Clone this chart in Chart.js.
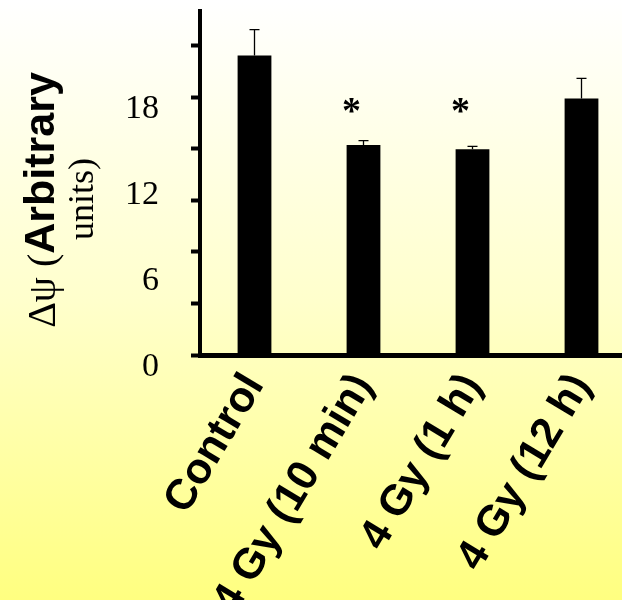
<!DOCTYPE html>
<html>
<head>
<meta charset="utf-8">
<script src="https://cdn.jsdelivr.net/npm/chart.js@4.4.1/dist/chart.umd.min.js"></script>
<style>
  html, body { margin: 0; padding: 0; width: 622px; height: 600px; overflow: hidden; }
  body { background: linear-gradient(to bottom, #ffffff 0%, #ffffcc 50%, #ffff80 100%); }
  #wrap { position: relative; width: 636px; height: 600px; }
</style>
</head>
<body>
<div id="wrap"><canvas id="c"></canvas></div>
<script>
const categories = ['Control', '4 Gy (10 min)', '4 Gy (1 h)', '4 Gy (12 h)'];
const meanValues = [20.9, 14.65, 14.35, 17.9];
const errorValues = [1.8, 0.3, 0.2, 1.4];
const significance = ['', '*', '*', ''];
const yTickLabels = [0, 6, 12, 18];
const yTickMarks = [0, 3.6, 7.2, 10.8, 14.4, 18, 21.6];
const yMax = 24;
const titleLine1Serif = 'Δψ (';
const titleLine1Sans = 'Arbitrary';
const titleLine2 = 'units)';

const allTicks = Array.from(new Set([...yTickMarks, ...yTickLabels])).sort((a, b) => a - b);

const errorBarPlugin = {
  id: 'errorBars',
  afterDatasetsDraw(chart) {
    const ctx = chart.ctx;
    const meta = chart.getDatasetMeta(0);
    const ys = chart.scales.y;
    ctx.save();
    ctx.strokeStyle = '#000';
    ctx.lineWidth = 1.3;
    const tops = [];
    meta.data.forEach((bar, i) => {
      const yTop = ys.getPixelForValue(meanValues[i] + errorValues[i]);
      const yBar = ys.getPixelForValue(meanValues[i]);
      tops.push(yTop);
      ctx.beginPath();
      ctx.moveTo(bar.x, yBar);
      ctx.lineTo(bar.x, yTop);
      ctx.moveTo(bar.x - 5, yTop);
      ctx.lineTo(bar.x + 5, yTop);
      ctx.stroke();
    });
    const starredTops = tops.filter((t, i) => significance[i]);
    const starY = Math.min(...starredTops) - 35;
    ctx.fillStyle = '#000';
    ctx.font = 'bold 38px "Liberation Serif"';
    ctx.textAlign = 'center';
    ctx.textBaseline = 'middle';
    meta.data.forEach((bar, i) => {
      if (significance[i]) ctx.fillText(significance[i], bar.x - 12, starY + 7);
    });
    ctx.restore();
  }
};

const yTitlePlugin = {
  id: 'yTitle',
  afterDraw(chart) {
    const ctx = chart.ctx;
    ctx.save();
    ctx.fillStyle = '#000';
    ctx.textBaseline = 'middle';
    const serifFont = '40px "Liberation Serif"';
    const sansFont = 'bold 43px "Liberation Sans"';
    ctx.font = serifFont;
    const w1 = ctx.measureText(titleLine1Serif).width;
    ctx.font = sansFont;
    const w2 = ctx.measureText(titleLine1Sans).width;
    const total = w1 + w2;
    ctx.translate(42, 200);
    ctx.rotate(-Math.PI / 2);
    ctx.textAlign = 'left';
    ctx.font = serifFont;
    ctx.fillText(titleLine1Serif, -total / 2, 2);
    ctx.font = sansFont;
    ctx.fillText(titleLine1Sans, -total / 2 + w1, 0);
    ctx.restore();
    ctx.save();
    ctx.fillStyle = '#000';
    ctx.textBaseline = 'middle';
    ctx.textAlign = 'center';
    ctx.font = '36px "Liberation Serif"';
    ctx.translate(84, 199);
    ctx.rotate(-Math.PI / 2);
    ctx.fillText(titleLine2, 0, 0);
    ctx.restore();
  }
};

new Chart(document.getElementById('c'), {
  type: 'bar',
  data: {
    labels: categories,
    datasets: [{
      data: meanValues,
      backgroundColor: '#000000',
      borderWidth: 0,
      barPercentage: 0.31,
      categoryPercentage: 1.0
    }]
  },
  options: {
    responsive: true,
    maintainAspectRatio: false,
    animation: false,
    layout: { padding: { top: 11, right: 0, left: 0, bottom: 0 } },
    plugins: { legend: { display: false }, tooltip: { enabled: false } },
    scales: {
      x: {
        grid: { display: true, drawOnChartArea: false, drawTicks: false },
        border: { display: true, color: '#000', width: 5 },
        ticks: {
          color: '#000',
          font: { family: '"Liberation Sans"', size: 43, weight: 'bold' },
          minRotation: 59,
          maxRotation: 59,
          padding: 10,
          autoSkip: false
        },
        afterFit(scale) { scale.height = 245; scale.paddingLeft = 0; scale.paddingRight = 0; }
      },
      y: {
        min: 0,
        max: yMax,
        afterBuildTicks(scale) { scale.ticks = allTicks.map(v => ({ value: v })); },
        grid: {
          drawOnChartArea: false,
          drawTicks: true,
          tickLength: 9,
          tickWidth: 4,
          tickColor: (ctx) => (ctx.tick && yTickMarks.includes(ctx.tick.value)) ? '#000' : 'rgba(0,0,0,0)'
        },
        border: { display: true, color: '#000', width: 4 },
        ticks: {
          color: '#000',
          font: { family: '"Liberation Serif"', size: 34 },
          padding: 32,
          labelOffset: 12,
          autoSkip: false,
          callback: (value) => yTickLabels.includes(value) ? String(value) : ''
        },
        afterFit(scale) { scale.width = 200; scale.paddingTop = 0; scale.paddingBottom = 0; }
      }
    }
  },
  plugins: [errorBarPlugin, yTitlePlugin]
});
</script>
</body>
</html>
